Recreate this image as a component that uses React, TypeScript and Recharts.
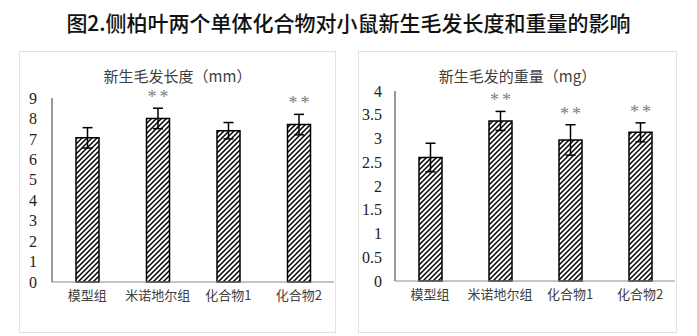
import { BarChart, Bar, XAxis, YAxis, ErrorBar, LabelList } from "recharts";

const groups = ["模型组", "米诺地尔组", "化合物1", "化合物2"];

const lengthValues = [7.05, 8.0, 7.4, 7.7];
const lengthErrors = [0.5, 0.5, 0.4, 0.5];
const lengthSig = ["", "**", "", "**"];
const lengthTicks = [0, 1, 2, 3, 4, 5, 6, 7, 8, 9];

const weightValues = [2.6, 3.37, 2.97, 3.13];
const weightErrors = [0.3, 0.2, 0.32, 0.2];
const weightSig = ["", "**", "**", "**"];
const weightTicks = [0, 0.5, 1, 1.5, 2, 2.5, 3, 3.5, 4];

const serif = "Liberation Serif";
const cjk = "Noto Sans CJK SC";

interface PanelProps {
  id: string;
  title: string;
  values: number[];
  errors: number[];
  sig: string[];
  ticks: number[];
  left: number;
  width: number;
  yAxisWidth: number;
  top: number;
  bottom: number;
  tickGap: number;
}

const Panel = ({ id, title, values, errors, sig, ticks, left, width, yAxisWidth, top, bottom, tickGap }: PanelProps) => {
  const data = groups.map((g, i) => ({ name: g, value: values[i], err: errors[i], sig: sig[i] }));

  // "**" marks sit above the error bar cap
  const renderStars = (props: any) => {
    const { x, y, width: w, height: h, index } = props;
    if (!sig[index]) return null;
    const pxPerUnit = h / values[index];
    const cx = x + w / 2;
    const base = y - errors[index] * pxPerUnit - 5;
    return (
      <g>
        <text x={cx - 6} y={base} textAnchor="middle" fontSize={18} fontFamily={serif} fill="#808080">*</text>
        <text x={cx + 6} y={base} textAnchor="middle" fontSize={18} fontFamily={serif} fill="#808080">*</text>
      </g>
    );
  };

  return (
    <div
      style={{
        position: "absolute",
        left,
        top: 51,
        width,
        height: 282,
        border: "1.5px solid #e2e2e2",
        boxSizing: "border-box",
      }}
    >
      <div
        style={{
          position: "absolute",
          left: 0,
          top: 13,
          width: "100%",
          textAlign: "center",
          fontFamily: cjk,
          fontSize: 15,
          color: "#404040",
        }}
      >
        {title}
      </div>
      <div style={{ position: "absolute", left: -1.5, top: -1.5 }}>
        <BarChart width={width} height={282} data={data} margin={{ top, right: 2, left: 0, bottom }}>
          <defs>
            <pattern id={id} patternUnits="userSpaceOnUse" width={5} height={5}>
              <rect width={5} height={5} fill="#fff" />
              <path d="M0,5 L5,0 M-1.25,1.25 L1.25,-1.25 M3.75,6.25 L6.25,3.75" stroke="#000" strokeWidth={1.5} />
            </pattern>
          </defs>
          <XAxis
            dataKey="name"
            tickLine={false}
            tickSize={0}
            tickMargin={9}
            axisLine={{ stroke: "#8c8c8c", strokeWidth: 1.2 }}
            tick={{ fontSize: 13, fontFamily: cjk, fill: "#404040" }}
            interval={0}
            height={30}
          />
          <YAxis
            type="number"
            domain={[ticks[0], ticks[ticks.length - 1]]}
            ticks={ticks}
            width={yAxisWidth}
            tickLine={false}
            tickSize={0}
            tickMargin={tickGap}
            axisLine={{ stroke: "#555", strokeWidth: 1.2 }}
            tick={{ fontSize: 16, fontFamily: serif, fill: "#222" }}
            interval={0}
          />
          <Bar dataKey="value" fill={`url(#${id})`} stroke="#000" strokeWidth={1.5} barSize={23} isAnimationActive={false}>
            <ErrorBar dataKey="err" width={5} stroke="#000" strokeWidth={1.5} />
            <LabelList dataKey="sig" content={renderStars} />
          </Bar>
        </BarChart>
      </div>
    </div>
  );
};

const App = () => {
  return (
    <div style={{ position: "absolute", left: 0, top: 0, width: 697, height: 336, background: "#fff" }}>
      <div
        style={{
          position: "absolute",
          left: 0,
          top: 7,
          width: 697,
          textAlign: "center",
          fontFamily: cjk,
          fontSize: 21,
          fontWeight: 500,
          color: "#111",
          whiteSpace: "nowrap",
        }}
      >
        图2.侧柏叶两个单体化合物对小鼠新生毛发长度和重量的影响
      </div>
      <Panel
        id="hatchLen"
        title="新生毛发长度（mm）"
        values={lengthValues}
        errors={lengthErrors}
        sig={lengthSig}
        ticks={lengthTicks}
        left={19}
        width={317}
        yAxisWidth={33}
        top={47}
        bottom={21}
        tickGap={15}
      />
      <Panel
        id="hatchWt"
        title="新生毛发的重量（mg）"
        values={weightValues}
        errors={weightErrors}
        sig={weightSig}
        ticks={weightTicks}
        left={358}
        width={319}
        yAxisWidth={37}
        top={40}
        bottom={22}
        tickGap={13}
      />
    </div>
  );
};

export default App;
